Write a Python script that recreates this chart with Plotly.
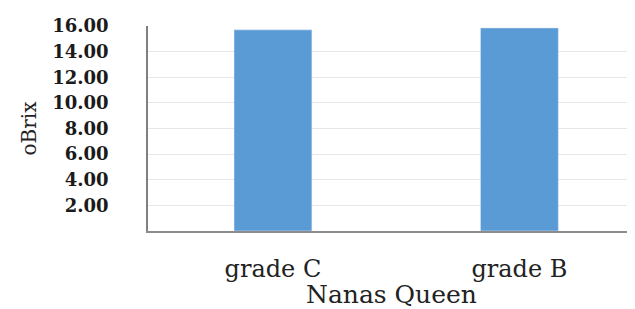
import plotly.graph_objects as go

categories = ["grade C", "grade B"]
values = [15.7, 15.85]
tick_vals = [2, 4, 6, 8, 10, 12, 14, 16]
tick_text = ["2.00", "4.00", "6.00", "8.00", "10.00", "12.00", "14.00", "16.00"]

SERIF = "DejaVu Serif, Liberation Serif, serif"

fig = go.Figure(go.Bar(x=categories, y=values, marker_color="#5b9bd5", width=0.316))

fig.update_layout(
    width=627, height=301,
    margin=dict(l=140, r=0, t=18, b=78),
    plot_bgcolor="white", paper_bgcolor="white",
    showlegend=False,
    font=dict(family=SERIF, color="#222"),
)
fig.update_xaxes(
    range=[-0.507, 1.469],
    automargin=False,
    showline=True, linecolor="#8c8c8c", linewidth=1.5,
    tickfont=dict(size=24, color="#222", family=SERIF),
    ticks="outside", ticklen=15, tickcolor="rgba(0,0,0,0)",
    title=dict(text="Nanas Queen", font=dict(size=25, color="#222", family=SERIF), standoff=6),
)
fig.update_yaxes(
    range=[0, 16],
    automargin=False,
    tickvals=tick_vals, ticktext=tick_text,
    tickfont=dict(size=18, color="#1a1a1a", family=SERIF, weight="bold"),
    ticklabelstandoff=34,
    showgrid=True, gridcolor="#e6e6e6", gridwidth=1,
    showline=True, linecolor="#808080", linewidth=1.5,
    zeroline=False,
    title=dict(text="oBrix", font=dict(size=20, color="#222", family=SERIF), standoff=10),
)

fig.write_html("out.html")
